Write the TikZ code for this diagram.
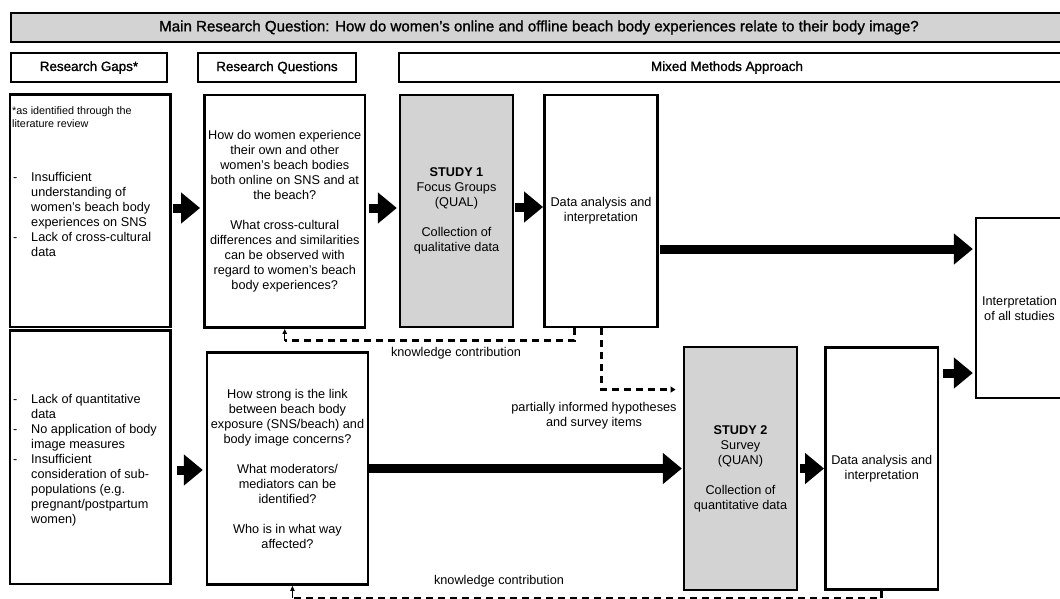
\documentclass[tikz,border=0pt]{standalone}
\usepackage{fontspec}
\setmainfont{Liberation Sans}
\newfontfamily\medfamily{Liberation Sans}[FakeBold=1.2]
\usetikzlibrary{arrows.meta,calc}
\definecolor{boxgray}{RGB}{211,211,211}
\newcommand\bodyfont{\fontsize{12.7}{15}\selectfont}
\newcommand\headfont{\medfamily\fontsize{13.4}{16}\selectfont}
\newcommand\titlefont{\medfamily\fontsize{15.1}{18}\selectfont}
\newcommand\notefont{\fontsize{10.8}{12.5}\selectfont}
\newcommand\gapitem[1]{\makebox[18pt][l]{-}#1}
\newcommand\gapcont[1]{\hspace*{18pt}#1}
\tikzset{
  box/.style={draw=black, line width=2.9pt, fill=white, inner sep=2pt,
    align=center, font=\bodyfont},
  graybox/.style={box, fill=boxgray},
  headbox/.style={box, font=\headfont},
  bigarrow/.style={line width=9pt, -{Triangle[length=19pt,width=30pt]}},
  dashline/.style={line width=3pt, dash pattern=on 7pt off 5pt},
  tiparrow/.style={line width=0.8pt, -{Triangle[length=5pt,width=4.5pt]}},
  lbl/.style={font=\bodyfont, align=center, inner sep=0pt},
  listtext/.style={font=\bodyfont, align=left, inner sep=0pt, anchor=north west},
}
\begin{document}
\begin{tikzpicture}[x=1pt,y=-1pt]
\useasboundingbox (0,0) rectangle (1060,598);
\clip (0,0) rectangle (1060,598);

% title and column headers
\node[headbox, fill=boxgray, font=\titlefont, minimum width=1056pt, minimum height=29pt]
  (title) at (539,27.5) {Main Research Question: How do women’s online and offline beach body experiences relate to their body image?};
\node[headbox, minimum width=156pt, minimum height=29pt] (hg) at (89,67.5) {Research Gaps*};
\node[headbox, minimum width=158pt, minimum height=29pt] (hq) at (277,67.5) {Research Questions};
\node[headbox, minimum width=668pt, minimum height=29pt] (hm) at (733,67.5) {};
\node[lbl, font=\headfont] (hmtext) at (727,67.5) {Mixed Methods Approach};

% research gaps
\node[box, minimum width=160.5pt, minimum height=232.5pt] (rg1) at (90.25,210.75) {};
\node[box, minimum width=160.5pt, minimum height=253.5pt] (rg2) at (90.25,457.25) {};
\node[listtext, font=\notefont] (rgnote) at (12,106.7) {*as identified through the\\literature review};
\node[listtext] (rg1list) at (13,172) {\gapitem{Insufficient}\\\gapcont{understanding of}\\\gapcont{women's beach body}\\\gapcont{experiences on SNS}\\\gapitem{Lack of cross-cultural}\\\gapcont{data}};
\node[listtext] (rg2list) at (13,394) {\gapitem{Lack of quantitative}\\\gapcont{data}\\\gapitem{No application of body}\\\gapcont{image measures}\\\gapitem{Insufficient}\\\gapcont{consideration of sub-}\\\gapcont{populations (e.g.}\\\gapcont{pregnant/postpartum}\\\gapcont{women)}};

% research questions
\node[box, minimum width=160.5pt, minimum height=232.5pt] (rq1) at (284.75,211.25)
  {How do women experience\\their own and other\\women's beach bodies\\both online on SNS and at\\the beach?\\[15pt]What cross-cultural\\differences and similarities\\can be observed with\\regard to women's beach\\body experiences?};
\node[box, minimum width=161pt, minimum height=232pt] (rq2) at (287.5,468.5)
  {How strong is the link\\between beach body\\exposure (SNS/beach) and\\body image concerns?\\[15pt]What moderators/\\mediators can be\\identified?\\[15pt]Who is in what way\\affected?};

% studies
\node[graybox, minimum width=113pt, minimum height=232pt] (s1) at (456.5,211)
  {\textbf{STUDY 1}\\Focus Groups\\(QUAL)\\[15pt]Collection of\\qualitative data};
\node[box, minimum width=113pt, minimum height=232pt] (da1) at (601,211)
  {Data analysis and\\interpretation};
\node[graybox, minimum width=113pt, minimum height=243pt] (s2) at (740.5,468.5)
  {\textbf{STUDY 2}\\Survey\\(QUAN)\\[15pt]Collection of\\quantitative data};
\node[box, minimum width=112.5pt, minimum height=242pt] (da2) at (881.75,468.5)
  {Data analysis and\\interpretation};
\node[box, minimum width=87pt, minimum height=180pt] (interp) at (1019.5,308)
  {Interpretation\\of all studies};

% main flow
\draw[bigarrow, shorten <=1pt, shorten >=3pt] ([yshift=2.75pt]rg1.east) -- ([yshift=2.75pt]rg1.east -| rq1.west);
\draw[bigarrow, shorten <=2.7pt, shorten >=1.7pt] ([yshift=3.25pt]rq1.east) -- ([yshift=3.25pt]rq1.east -| s1.west);
\draw[bigarrow, shorten <=0.7pt] ([yshift=4pt]s1.east) -- ([yshift=4pt]s1.east -| da1.west);
\draw[bigarrow, shorten <=1.2pt, shorten >=1.7pt] ([yshift=-38pt]da1.east) -- ([yshift=-38pt]da1.east -| interp.west);
\draw[bigarrow, shorten <=5pt, shorten >=2.7pt] ([yshift=-12.75pt]rg2.east) -- ([yshift=-12.75pt]rg2.east -| rq2.west);
\draw[bigarrow, shorten >=0.7pt] (rq2.east) -- (rq2.east -| s2.west);
\draw[bigarrow, shorten <=1.7pt] (s2.east) -- (s2.east -| da2.west);
\draw[bigarrow, shorten <=3.7pt, shorten >=1.7pt] ([yshift=95.5pt]da2.east) -- ([yshift=95.5pt]da2.east -| interp.west);

% knowledge contribution from study 1 back to the first questions
\coordinate (k1s) at ($(da1.south west)!0.27!(da1.south east)$);
\coordinate (k1e) at ([yshift=-12pt]rq1.south);
\draw[dashline] (k1s) |- (k1e);
\draw[tiparrow] (k1e) -- (rq1.south);
\node[lbl] (kc1) at (456,353) {knowledge contribution};

% study 1 informs study 2
\coordinate (p1e) at ([yshift=-44pt]s2.north west);
\draw[dashline, -{Triangle[length=5pt,width=6pt]}, shorten >=7pt] (da1.south) |- (p1e);
\node[lbl] (pinf) at (594,416) {partially informed hypotheses\\and survey items};

% knowledge contribution from study 2 back to the second questions
\coordinate (k2e) at ([yshift=-12.5pt]$(rq2.south west)!0.53!(rq2.south east)$);
\draw[dashline] (da2.south) |- (k2e);
\draw[tiparrow] (k2e) -- (k2e |- rq2.south);
\node[lbl] (kc2) at (499,581) {knowledge contribution};
\end{tikzpicture}
\end{document}
